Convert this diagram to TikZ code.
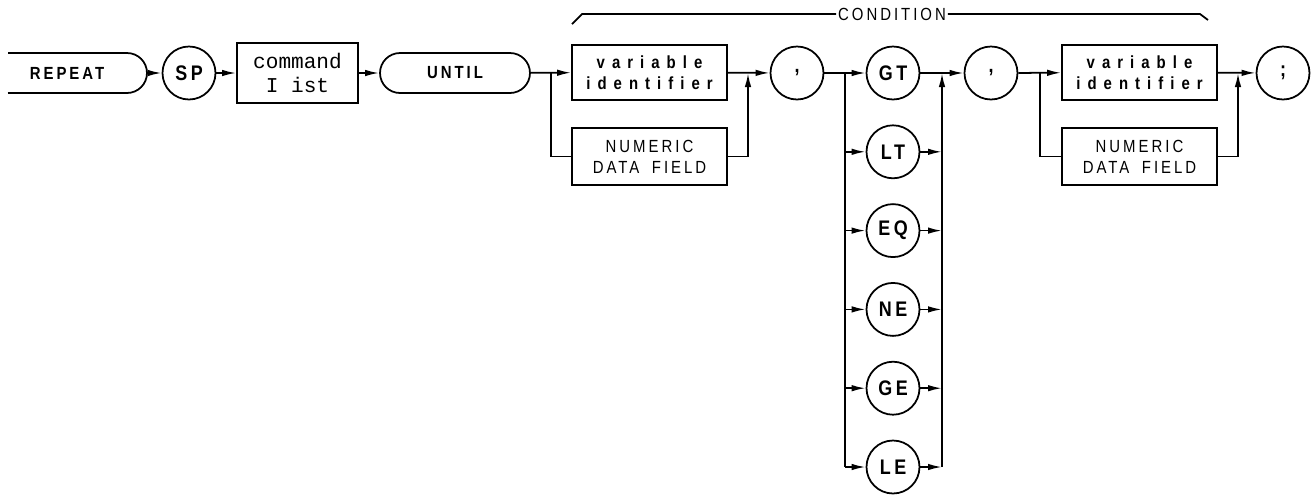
\documentclass[tikz,border=0pt]{standalone}
\usepackage{fontspec}
\setmainfont{Liberation Sans}
\newfontfamily\capsfont[LetterSpace=17,FakeStretch=0.85]{Liberation Sans}
\newfontfamily\widefont[LetterSpace=40,FakeStretch=0.85]{Liberation Sans}
\newfontfamily\cmdfont{Liberation Mono}
\usetikzlibrary{arrows.meta,shapes.misc}

\tikzset{
  syn/.style={line width=1pt},
  arr/.style={syn,-{Latex[length=2.8mm,width=1.3mm]}},
  circ/.style={syn,draw,circle,minimum size=1.06cm,inner sep=0pt,font=\capsfont\bfseries\large},
  fieldbox/.style={syn,draw,rectangle,minimum width=3.1cm,minimum height=1.1cm,inner sep=0pt,align=center},
  term/.style={syn,draw,rounded rectangle,minimum width=3cm,minimum height=0.8cm,inner sep=0pt,font=\capsfont\bfseries}
}

\begin{document}
\begin{tikzpicture}[x=0.02cm,y=-0.02cm]
    \useasboundingbox (0,0) rectangle (1316,495);

    \node[font=\capsfont\bfseries] (rep) at (67,73) {REPEAT};
    \coordinate (repend) at (147,73);
    \draw[syn] (8,53) -- (127,53) arc[start angle=90,end angle=-90,radius=0.4cm] -- (8,93);
    \node[circ] (sp) at (189,73) {SP};
    \node[fieldbox,minimum width=2.42cm,minimum height=1.2cm,font=\cmdfont\large] (cmd) at (297.5,73) {command\\I ist};
    \node[term] (until) at (455,73) {UNTIL};

    \coordinate (j1) at (551,73);
    \node[fieldbox,font=\widefont\bfseries] (vid1) at (649.5,72.5) {variable\\identifier};
    \node[fieldbox,minimum height=1.14cm,font=\capsfont] (num1) at (649.5,156.5) {NUMERIC\\DATA\hspace{0.25cm}FIELD};
    \coordinate (m1) at (748,73);
    \node[circ] (c1) at (797,73) {,};

    \coordinate (j2) at (845,73);
    \coordinate (j2e) at (845,467);
    \foreach \n/\t in {1/GT,2/LT,3/EQ,4/NE,5/GE,6/LE}
      \node[circ] (op\n) at (893,{73+78.8*(\n-1)}) {\t};
    \coordinate (m2) at (942,73);
    \coordinate (m2e) at (942,467);

    \node[circ] (c2) at (991,73) {,};
    \coordinate (j3) at (1040,73);
    \node[fieldbox,font=\widefont\bfseries] (vid2) at (1139.5,72.5) {variable\\identifier};
    \node[fieldbox,minimum height=1.14cm,font=\capsfont] (num2) at (1139.5,156.5) {NUMERIC\\DATA\hspace{0.25cm}FIELD};
    \coordinate (m3) at (1238,73);
    \node[circ] (semi) at (1283,73) {;};

    \node[inner sep=1pt,font=\capsfont] (cond) at (892,14) {CONDITION};
    \draw[syn] (cond.west) -- (582,14) -- (572,24);
    \draw[syn] (cond.east) -- (1200,14) -- (1208,20);

    \draw[arr] (repend) -- (sp);
    \draw[arr] (sp) -- (cmd);
    \draw[arr] (cmd) -- (until);
    \draw[arr] (until) -- (vid1);
    \draw[syn] (j1) |- (num1.west);
    \draw[arr] (vid1) -- (c1);
    \draw[arr] (num1.east) -| (m1);
    \draw[arr] (c1) -- (op1);
    \draw[syn] (j2) -- (j2e);
    \foreach \n in {2,...,6}{
      \draw[arr] (op\n.west -| j2) -- (op\n.west);
      \draw[arr] (op\n.east) -- (op\n.east -| m2);
    }
    \draw[arr] (m2e) -- (m2);
    \draw[arr] (op1) -- (c2);
    \draw[arr] (c2) -- (vid2);
    \draw[syn] (j3) |- (num2.west);
    \draw[arr] (vid2) -- (semi);
    \draw[arr] (num2.east) -| (m3);
  \end{tikzpicture}
\end{document}
